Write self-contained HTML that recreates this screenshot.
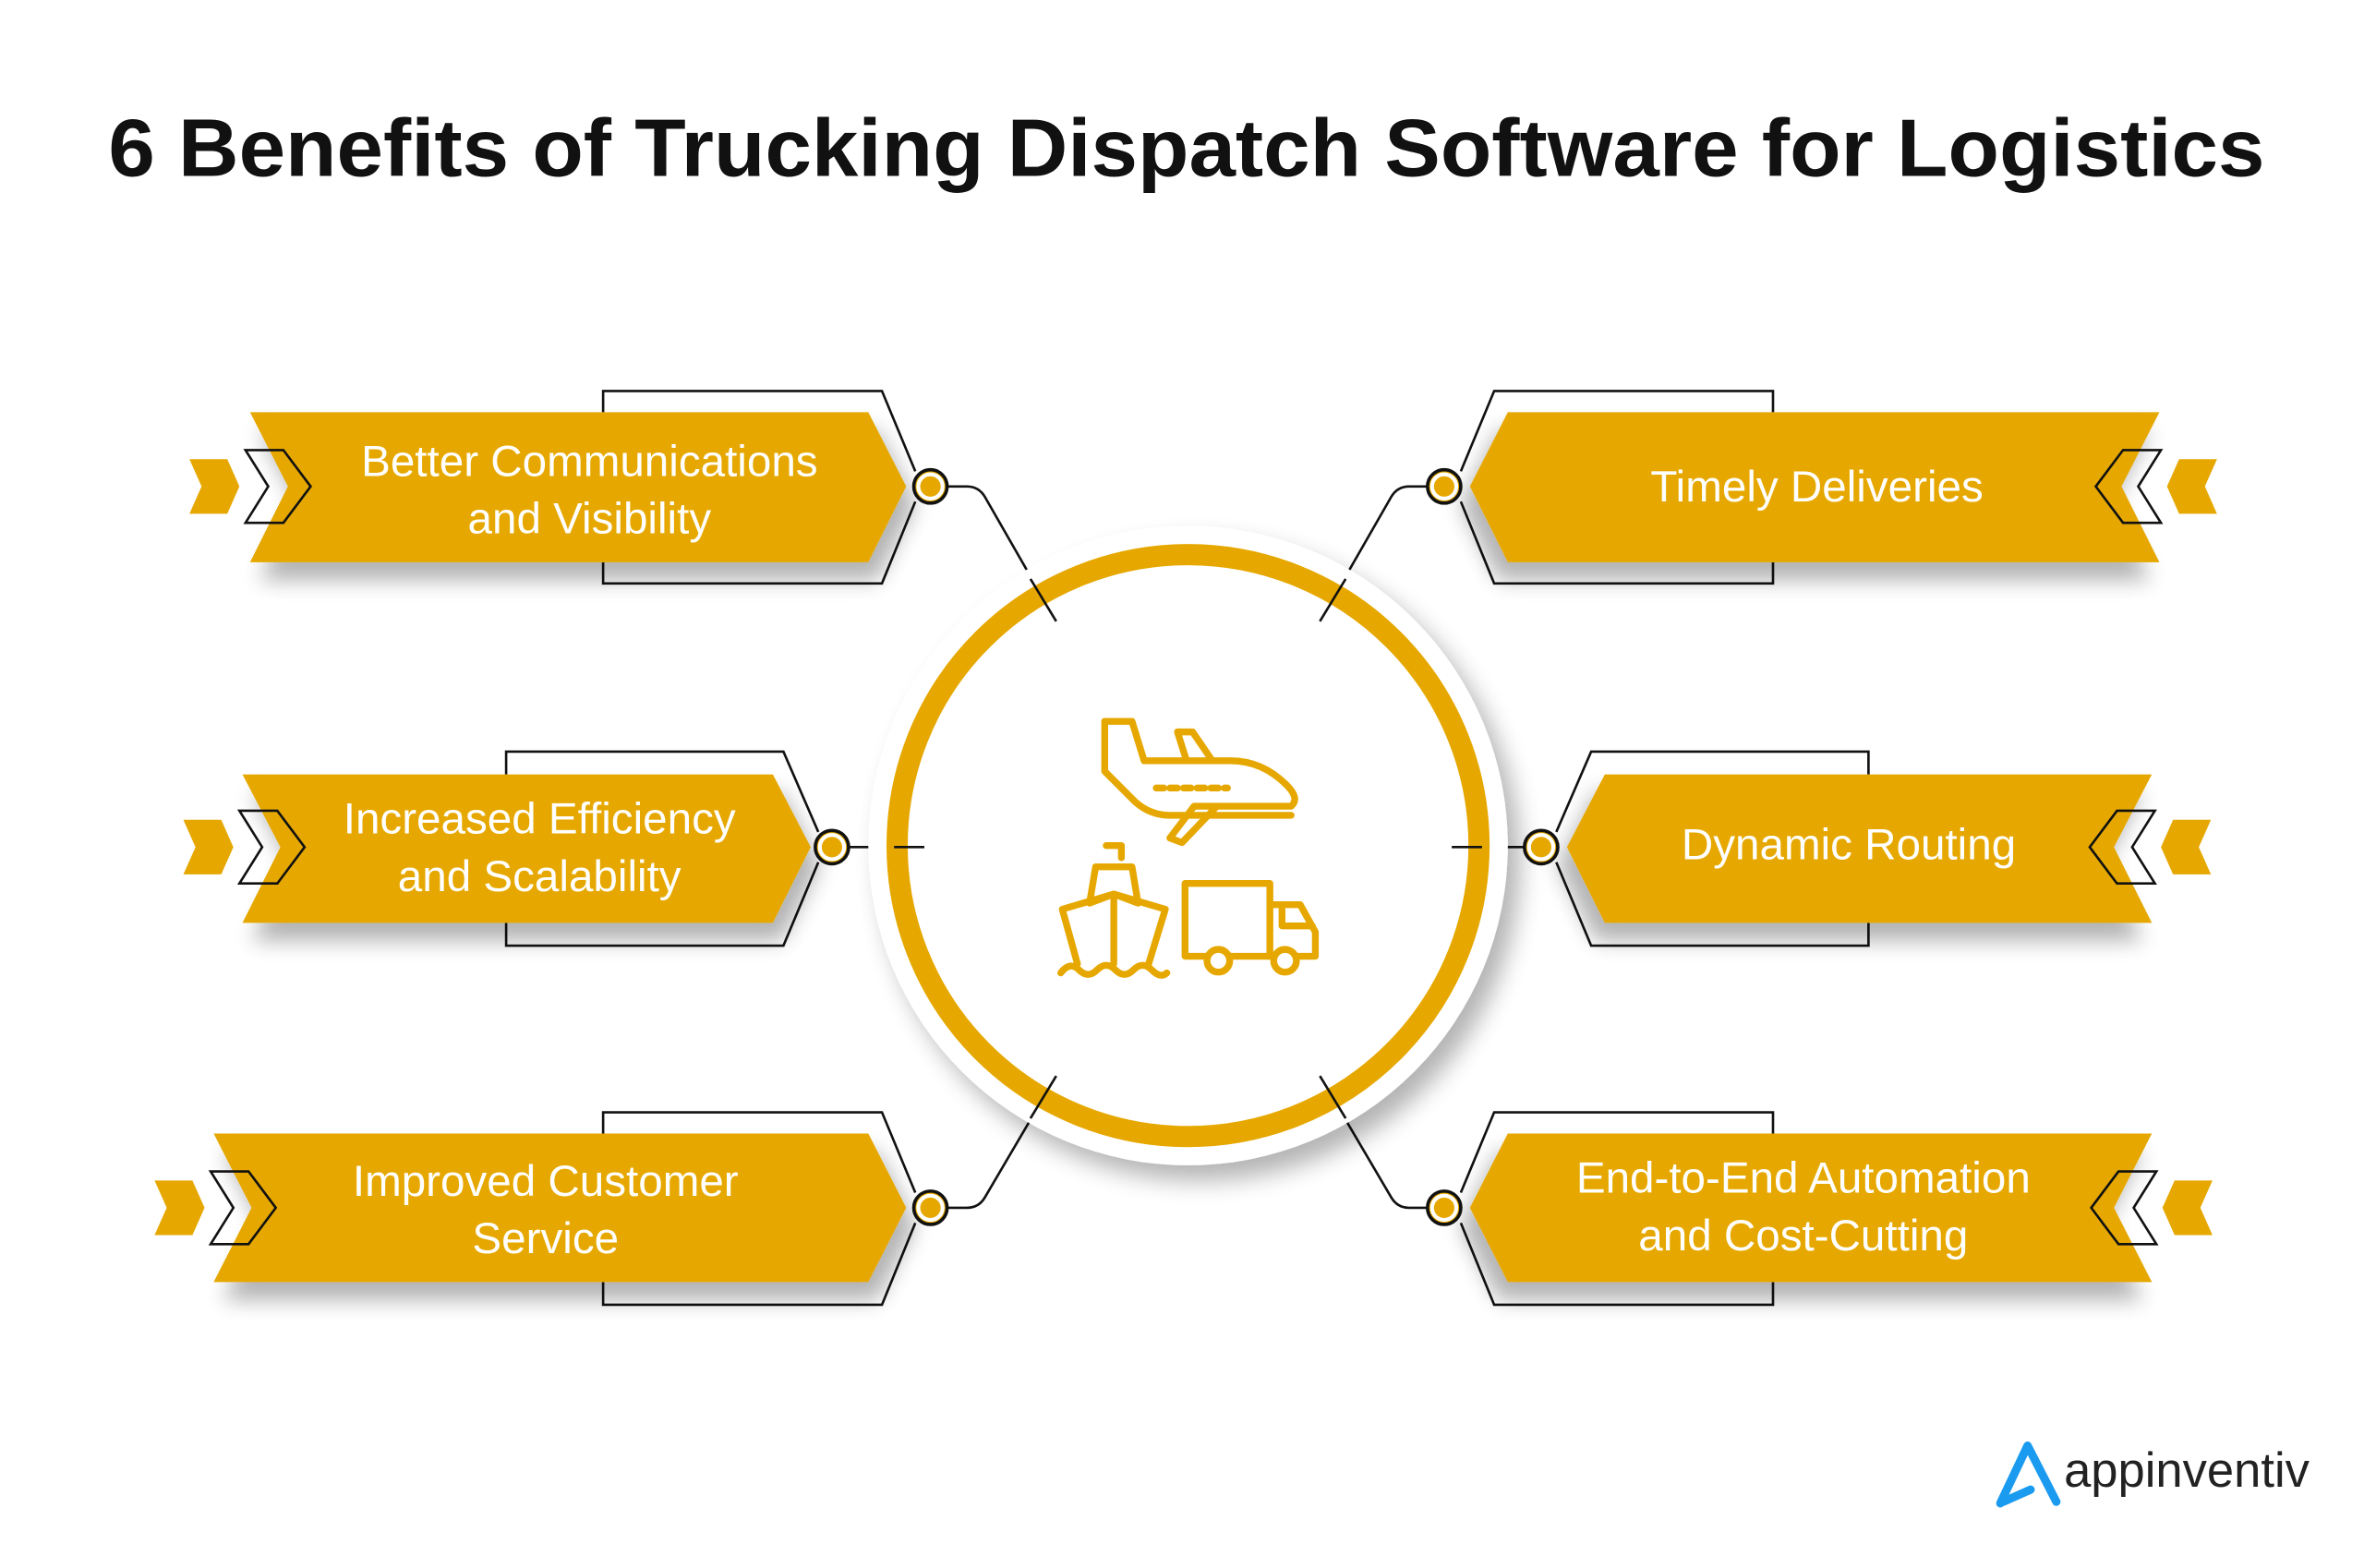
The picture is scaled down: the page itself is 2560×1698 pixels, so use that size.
<!DOCTYPE html>
<html><head><meta charset="utf-8"><style>
html,body{margin:0;padding:0;background:#fff;}
svg{display:block;}
text{font-family:"Liberation Sans",sans-serif;}
</style></head><body>
<svg width="2560" height="1698" viewBox="0 0 1560 1034.7" preserveAspectRatio="none" xmlns="http://www.w3.org/2000/svg">
<defs>
<filter id="sh" x="-20%" y="-30%" width="140%" height="180%"><feGaussianBlur in="SourceAlpha" stdDeviation="7"/><feOffset dx="6" dy="12"/><feComponentTransfer><feFuncA type="linear" slope="0.3"/></feComponentTransfer><feMerge><feMergeNode/><feMergeNode in="SourceGraphic"/></feMerge></filter>
<filter id="csh" x="-20%" y="-20%" width="140%" height="140%"><feGaussianBlur in="SourceAlpha" stdDeviation="8"/><feOffset dx="8" dy="10"/><feComponentTransfer><feFuncA type="linear" slope="0.3"/></feComponentTransfer><feMerge><feMergeNode/><feMergeNode in="SourceGraphic"/></feMerge></filter>
<g id="ic">
<polygon points="0,-18 25,-18 33,0 25,18 0,18 8,0" fill="#e6a800"/>
<polygon points="37,-24 62,-24 80,0 62,24 37,24 52,0" fill="none" stroke="#111" stroke-width="1.6"/>
</g>
</defs>
<rect width="1560" height="1035" fill="#fff"/>
<text x="783" y="116" text-anchor="middle" font-size="54" font-weight="bold" fill="#111" textLength="1423" lengthAdjust="spacingAndGlyphs">6 Benefits of Trucking Dispatch Software for Logistics</text>

<!-- connectors -->
<g fill="none" stroke="#111" stroke-width="1.6">
<path d="M625,321 H638 Q646,321 650,328 L697,410"/>
<path d="M943,321 H930 Q922,321 918,328 L871,410"/>
<path d="M625,797 H638 Q646,797 650,790 L697,710"/>
<path d="M943,797 H930 Q922,797 918,790 L871,710"/>
<path d="M560,559 H610"/>
<path d="M958,559 H1006"/>
</g>

<!-- center circle -->
<circle cx="784" cy="558" r="211" fill="#fff" filter="url(#csh)"/>
<circle cx="784" cy="558" r="192" fill="#fff" stroke="#e6a800" stroke-width="14"/>
<g fill="none" stroke="#111" stroke-width="1.6">
<path d="M680,382 L697,410"/><path d="M888,382 L871,410"/>
<path d="M680,738 L697,710"/><path d="M888,738 L871,710"/>
<path d="M590,559 H610"/><path d="M958,559 H978"/>
</g>

<!-- icons -->
<g fill="none" stroke="#e6a800" stroke-width="4.5" stroke-linejoin="round" stroke-linecap="round">
<path d="M729,476 H747 L755,502 H812 Q833,502 849,518 Q858,527 852,532 H788 L772,553 L780,556 L803,532"/>
<path d="M729,476 V509 L749,529 Q759,538 772,538 H852"/>
<path d="M777,483 H787 L800,502 M777,483 L783,502"/>
<path d="M763,520 H810" stroke-dasharray="5,4"/>
<path d="M730,558 H740 V566 M727,572 H747 L751,596 L735,590 L719,596 L723,572 Z"/>
<path d="M701,600 L735,590 L769,600 L758,636 M701,600 L711,636 M735,590 V636"/>
<path d="M700,642 Q706,634 712,640 Q718,646 724,640 Q730,634 736,640 Q742,646 748,640 Q754,634 760,640 Q766,646 770,642"/>
<path d="M782,583 H838 V631 H782 Z M838,597 H858 L868,615 V631 H838"/>
<path d="M846,600 V611 H866"/>
<circle cx="804" cy="634" r="7.5" fill="#fff"/><circle cx="848" cy="634" r="7.5" fill="#fff"/>
</g>
<rect x="775" y="534" width="0" height="0"/>

<!-- left banners -->
<g>
<path d="M398,272 V258 H582 L604,311 M604,331 L582,385 H398 V371" fill="none" stroke="#111" stroke-width="1.6"/>
<path d="M165,272 H573 L598,321 L573,371 H165 L190,321 Z" fill="#e6a800" filter="url(#sh)"/>
<circle cx="614" cy="321" r="11" fill="#e6a800" stroke="#111" stroke-width="2.2"/>
<circle cx="614" cy="321" r="8" fill="none" stroke="#fff" stroke-width="2.5"/>
<use href="#ic" x="125" y="321"/>
<text x="389" y="314" text-anchor="middle" font-size="29" fill="#fff">Better Communications</text>
<text x="389" y="352" text-anchor="middle" font-size="29" fill="#fff">and Visibility</text>
</g>
<g>
<path d="M334,511 V496 H517 L540,549 M540,569 L517,624 H334 V609" fill="none" stroke="#111" stroke-width="1.6"/>
<path d="M160,511 H510 L535,559 L510,609 H160 L185,559 Z" fill="#e6a800" filter="url(#sh)"/>
<circle cx="549" cy="559" r="11" fill="#e6a800" stroke="#111" stroke-width="2.2"/>
<circle cx="549" cy="559" r="8" fill="none" stroke="#fff" stroke-width="2.5"/>
<use href="#ic" x="121" y="559"/>
<text x="356" y="550" text-anchor="middle" font-size="29" fill="#fff">Increased Efficiency</text>
<text x="356" y="588" text-anchor="middle" font-size="29" fill="#fff">and Scalability</text>
</g>
<g>
<path d="M398,748 V734 H582 L604,787 M604,807 L582,861 H398 V846" fill="none" stroke="#111" stroke-width="1.6"/>
<path d="M141,748 H573 L598,797 L573,846 H141 L166,797 Z" fill="#e6a800" filter="url(#sh)"/>
<circle cx="614" cy="797" r="11" fill="#e6a800" stroke="#111" stroke-width="2.2"/>
<circle cx="614" cy="797" r="8" fill="none" stroke="#fff" stroke-width="2.5"/>
<use href="#ic" x="102" y="797"/>
<text x="360" y="789" text-anchor="middle" font-size="29" fill="#fff">Improved Customer</text>
<text x="360" y="827" text-anchor="middle" font-size="29" fill="#fff">Service</text>
</g>

<!-- right banners (mirrored shapes) -->
<g transform="translate(1567,0) scale(-1,1)">
<path d="M397,272 V258 H581 L603,311 M603,331 L581,385 H397 V371" fill="none" stroke="#111" stroke-width="1.6"/>
<path d="M142,272 H572 L597,321 L572,371 H142 L167,321 Z" fill="#e6a800" filter="url(#sh)"/>
<circle cx="614" cy="321" r="11" fill="#e6a800" stroke="#111" stroke-width="2.2"/>
<circle cx="614" cy="321" r="8" fill="none" stroke="#fff" stroke-width="2.5"/>
<use href="#ic" x="104" y="321"/>
<path d="M334,511 V496 H517 L540,549 M540,569 L517,624 H334 V609" fill="none" stroke="#111" stroke-width="1.6"/>
<path d="M147,511 H508 L533,559 L508,609 H147 L172,559 Z" fill="#e6a800" filter="url(#sh)"/>
<circle cx="550" cy="559" r="11" fill="#e6a800" stroke="#111" stroke-width="2.2"/>
<circle cx="550" cy="559" r="8" fill="none" stroke="#fff" stroke-width="2.5"/>
<use href="#ic" x="108" y="559"/>
<path d="M397,748 V734 H581 L603,787 M603,807 L581,861 H397 V846" fill="none" stroke="#111" stroke-width="1.6"/>
<path d="M147,748 H572 L597,797 L572,846 H147 L172,797 Z" fill="#e6a800" filter="url(#sh)"/>
<circle cx="614" cy="797" r="11" fill="#e6a800" stroke="#111" stroke-width="2.2"/>
<circle cx="614" cy="797" r="8" fill="none" stroke="#fff" stroke-width="2.5"/>
<use href="#ic" x="107" y="797"/>
</g>
<text x="1199" y="331" text-anchor="middle" font-size="29" fill="#fff">Timely Deliveries</text>
<text x="1220" y="567" text-anchor="middle" font-size="29" fill="#fff">Dynamic Routing</text>
<text x="1190" y="787" text-anchor="middle" font-size="29" fill="#fff">End-to-End Automation</text>
<text x="1190" y="825" text-anchor="middle" font-size="29" fill="#fff">and Cost-Cutting</text>

<!-- logo -->
<path d="M1320,992 L1338,954 L1357,991 M1322,991 L1340,983" fill="none" stroke="#1a9bef" stroke-width="5.5" stroke-linecap="round" stroke-linejoin="round"/>
<text x="1362" y="981" font-size="32" fill="#222" textLength="162" lengthAdjust="spacingAndGlyphs">appinventiv</text>
</svg>
</body></html>
